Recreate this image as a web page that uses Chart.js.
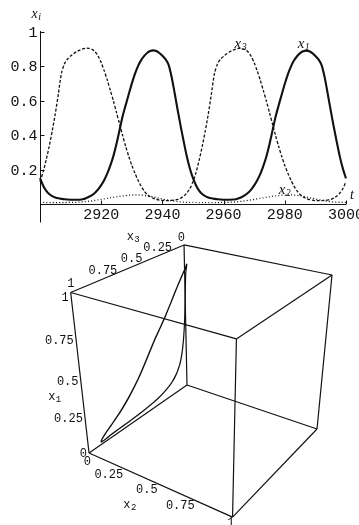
<!DOCTYPE html>
<html>
<head>
<meta charset="utf-8">
<script src="https://cdn.jsdelivr.net/npm/chart.js@4/dist/chart.umd.min.js"></script>
<style>
  html, body { margin: 0; padding: 0; background: #fff; }
  body { width: 359px; height: 525px; position: relative; overflow: hidden; }
  canvas { position: absolute; left: 0; }
  #series { top: 0; }
  #phase { top: 220px; }
</style>
</head>
<body>
<canvas id="series" width="359" height="228"></canvas>
<canvas id="phase" width="359" height="305"></canvas>
<script>
// ---- data: time t and the three concentrations x1, x2, x3 ----
const TIME = [
  2900,2901,2902,2903,2904,2905,2906,2907,2908,2909,
  2910,2911,2912,2913,2914,2915,2916,2917,2918,2919,
  2920,2921,2922,2923,2924,2925,2926,2927,2928,2929,
  2930,2931,2932,2933,2934,2935,2936,2937,2938,2939,
  2940,2941,2942,2943,2944,2945,2946,2947,2948,2949,
  2950,2951,2952,2953,2954,2955,2956,2957,2958,2959,
  2960,2961,2962,2963,2964,2965,2966,2967,2968,2969,
  2970,2971,2972,2973,2974,2975,2976,2977,2978,2979,
  2980,2981,2982,2983,2984,2985,2986,2987,2988,2989,
  2990,2991,2992,2993,2994,2995,2996,2997,2998,2999,
  3000
];
const X1 = [
  0.15,0.108,0.078,0.058,0.046,0.038,0.033,0.03,0.028,0.026,
  0.025,0.025,0.025,0.025,0.028,0.034,0.042,0.052,0.066,0.085,
  0.11,0.14,0.178,0.225,0.28,0.35,0.43,0.51,0.575,0.638,
  0.70,0.755,0.80,0.835,0.86,0.878,0.889,0.893,0.889,0.878,
  0.862,0.842,0.81,0.74,0.645,0.545,0.45,0.36,0.275,0.205,
  0.15,0.108,0.078,0.058,0.046,0.038,0.033,0.03,0.028,0.026,
  0.025,0.025,0.025,0.026,0.028,0.033,0.041,0.051,0.065,0.084,
  0.108,0.138,0.175,0.222,0.278,0.348,0.428,0.508,0.574,0.637,
  0.699,0.754,0.799,0.834,0.859,0.877,0.888,0.892,0.888,0.877,
  0.861,0.841,0.809,0.739,0.644,0.544,0.449,0.359,0.274,0.204,
  0.149
];
const X2 = [
  0.009,0.009,0.008,0.008,0.008,0.008,0.008,0.008,0.008,0.009,
  0.009,0.01,0.01,0.011,0.012,0.014,0.016,0.018,0.021,0.024,
  0.027,0.03,0.033,0.036,0.039,0.042,0.045,0.047,0.049,0.051,
  0.052,0.053,0.053,0.052,0.05,0.048,0.045,0.041,0.037,0.033,
  0.029,0.025,0.022,0.019,0.016,0.014,0.012,0.011,0.01,0.009,
  0.009,0.009,0.008,0.008,0.008,0.008,0.008,0.008,0.008,0.009,
  0.009,0.01,0.01,0.011,0.012,0.014,0.016,0.018,0.021,0.024,
  0.027,0.03,0.033,0.036,0.039,0.042,0.045,0.047,0.049,0.051,
  0.052,0.053,0.053,0.052,0.05,0.048,0.045,0.041,0.037,0.033,
  0.029,0.025,0.022,0.019,0.016,0.014,0.012,0.011,0.01,0.009,
  0.009
];
const X3 = [
  0.13,0.185,0.255,0.335,0.425,0.525,0.64,0.76,0.815,0.843,
  0.86,0.874,0.886,0.895,0.902,0.906,0.905,0.899,0.885,0.86,
  0.822,0.774,0.72,0.66,0.598,0.532,0.465,0.398,0.335,0.277,
  0.225,0.18,0.14,0.105,0.077,0.056,0.042,0.033,0.027,0.023,
  0.021,0.02,0.02,0.021,0.023,0.027,0.034,0.046,0.064,0.09,
  0.13,0.184,0.254,0.334,0.424,0.524,0.638,0.758,0.814,0.842,
  0.859,0.873,0.885,0.894,0.901,0.905,0.904,0.898,0.884,0.859,
  0.821,0.773,0.719,0.659,0.597,0.531,0.464,0.397,0.334,0.276,
  0.224,0.179,0.139,0.104,0.076,0.055,0.041,0.032,0.026,0.022,
  0.02,0.02,0.02,0.021,0.023,0.027,0.034,0.046,0.064,0.09,
  0.13
];

// ---- axis ticks ----
const T_RANGE = [2900, 3000];
const T_TICKS = [2920, 2940, 2960, 2980, 3000];
const Y_RANGE = [0, 1];
const Y_TICKS = [0.2, 0.4, 0.6, 0.8, 1];
const CUBE_TICKS = [0, 0.25, 0.5, 0.75, 1];
const CUBE_TICK_TEXT = ['0', '0.25', '0.5', '0.75', '1'];

// ---- fonts / styles ----
const MONO = '"Liberation Mono", "DejaVu Sans Mono", monospace';
const SERIF_IT = 'italic 15px "Liberation Serif", "DejaVu Serif", serif';
const SERIF_IT_SUB = 'italic 10px "Liberation Serif", "DejaVu Serif", serif';
const INK = '#111';

function subscripted(ctx, base, sub, x, y, font, subFont, drop, align) {
  ctx.font = font;
  const w1 = ctx.measureText(base).width;
  ctx.font = subFont;
  const w2 = ctx.measureText(sub).width;
  let left = x;
  if (align === 'right') left = x - w1 - w2;
  else if (align === 'center') left = x - (w1 + w2) / 2;
  ctx.textAlign = 'left';
  ctx.textBaseline = 'alphabetic';
  ctx.font = font;
  ctx.fillText(base, left, y);
  ctx.font = subFont;
  ctx.fillText(sub, left + w1 + 0.5, y + drop);
}

// ================= time series =================
const seriesAxes = {
  id: 'seriesAxes',
  afterDatasetsDraw(chart) {
    const { ctx } = chart;
    const sx = chart.scales.x, sy = chart.scales.y;
    const x0 = Math.round(sx.getPixelForValue(T_RANGE[0])) + 0.5;
    const y0 = Math.round(sy.getPixelForValue(Y_RANGE[0])) + 0.5;
    const yTop = sy.getPixelForValue(Y_RANGE[1]);
    const xEnd = sx.getPixelForValue(T_RANGE[1]);
    ctx.save();
    ctx.strokeStyle = INK;
    ctx.fillStyle = INK;
    ctx.lineWidth = 1;
    ctx.beginPath();
    ctx.moveTo(x0, yTop - 1);
    ctx.lineTo(x0, y0 + 18);
    ctx.moveTo(x0, y0);
    ctx.lineTo(xEnd, y0);
    Y_TICKS.forEach(v => {
      const y = Math.round(sy.getPixelForValue(v)) + 0.5;
      ctx.moveTo(x0, y); ctx.lineTo(x0 + 4, y);
    });
    T_TICKS.forEach(t => {
      const x = Math.round(sx.getPixelForValue(t)) + 0.5;
      ctx.moveTo(x, y0); ctx.lineTo(x, y0 - 4);
    });
    ctx.stroke();

    ctx.font = '15px ' + MONO;
    ctx.textAlign = 'right';
    ctx.textBaseline = 'middle';
    Y_TICKS.forEach(v => {
      ctx.fillText(String(v), x0 - 3, sy.getPixelForValue(v) + 1);
    });
    ctx.textAlign = 'center';
    ctx.textBaseline = 'top';
    T_TICKS.forEach(t => {
      ctx.fillText(String(t), sx.getPixelForValue(t), y0 + 3);
    });

    // axis titles
    subscripted(ctx, 'x', 'i', x0 - 9, yTop - 14, 'italic 14px "Liberation Serif", serif', SERIF_IT_SUB, 2, 'left');
    ctx.font = 'italic 14px "Liberation Serif", serif';
    ctx.textAlign = 'left';
    ctx.textBaseline = 'alphabetic';
    ctx.fillText('t', xEnd + 4, y0 - 6);

    // curve names
    const names = [
      { b: 'x', s: '3', t: 2963.6, v: 0.905 },
      { b: 'x', s: '1', t: 2984.2, v: 0.905 },
      { b: 'x', s: '2', t: 2978.0, v: 0.06 }
    ];
    names.forEach(n => {
      subscripted(ctx, n.b, n.s, sx.getPixelForValue(n.t), sy.getPixelForValue(n.v),
        SERIF_IT, SERIF_IT_SUB, 2, 'left');
    });
    ctx.restore();
  }
};

const pts = arr => TIME.map((t, i) => ({ x: t, y: arr[i] }));

new Chart(document.getElementById('series'), {
  type: 'line',
  data: {
    datasets: [
      { label: 'x2', data: pts(X2), borderColor: INK, borderWidth: 1.3, borderDash: [1, 2.2] },
      { label: 'x3', data: pts(X3), borderColor: INK, borderWidth: 1.3, borderDash: [3, 1.8] },
      { label: 'x1', data: pts(X1), borderColor: INK, borderWidth: 2.1 }
    ]
  },
  options: {
    responsive: false,
    animation: false,
    events: [],
    layout: { padding: { left: 40, right: 13, top: 32, bottom: 24 } },
    elements: { point: { radius: 0 }, line: { tension: 0.25, fill: false } },
    datasets: { line: { clip: 6 } },
    scales: {
      x: { type: 'linear', min: T_RANGE[0], max: T_RANGE[1], display: false },
      y: { type: 'linear', min: Y_RANGE[0], max: Y_RANGE[1], display: false }
    },
    plugins: { legend: { display: false }, tooltip: { enabled: false } }
  },
  plugins: [seriesAxes]
});

// ================= phase portrait in the unit cube =================
// perspective camera: screen = (U0 + U.p) / (1 + W.p), p = (x1, x2, x3)
const CAMERA = {
  u0: 187, u: [-23.2, 94.5, -112.2],
  v0: 385, v: [-167.0, -4.05, -4.5],
  w: [-0.110, -0.112, -0.160]
};
function view(p) {
  const d = 1 + CAMERA.w[0] * p[0] + CAMERA.w[1] * p[1] + CAMERA.w[2] * p[2];
  return {
    x: (CAMERA.u0 + CAMERA.u[0] * p[0] + CAMERA.u[1] * p[1] + CAMERA.u[2] * p[2]) / d,
    y: (CAMERA.v0 + CAMERA.v[0] * p[0] + CAMERA.v[1] * p[1] + CAMERA.v[2] * p[2]) / d
  };
}

const LO = 0, HI = 1;
const corner = i => [(i & 1) ? HI : LO, (i & 2) ? HI : LO, (i & 4) ? HI : LO];
const boxEdges = [];
for (let i = 0; i < 8; i++) {
  for (let k = 0; k < 3; k++) {
    if (!(i & (1 << k))) boxEdges.push([corner(i), corner(i | (1 << k))]);
  }
}

const edgeSets = boxEdges.map(([a, b]) => ({
  data: [view(a), view(b)],
  showLine: true, borderColor: INK, borderWidth: 1.2, pointRadius: 0, tension: 0
}));
const orbit = {
  data: TIME.map((t, i) => view([X1[i], X2[i], X3[i]])),
  showLine: true, borderColor: INK, borderWidth: 1.2, pointRadius: 0, tension: 0.2
};

const cubeLabels = {
  id: 'cubeLabels',
  afterDatasetsDraw(chart) {
    const { ctx } = chart;
    const sx = chart.scales.x, sy = chart.scales.y;
    const at = p => { const q = view(p); return { x: sx.getPixelForValue(q.x), y: sy.getPixelForValue(q.y) }; };
    ctx.save();
    ctx.fillStyle = INK;
    const tickFont = '12px ' + MONO;
    ctx.font = tickFont;

    // x3 along the upper-left edge (x1 = 1, x2 = 0)
    ctx.textAlign = 'center';
    ctx.textBaseline = 'middle';
    CUBE_TICKS.forEach((v, i) => {
      const q = at([HI, LO, v]);
      ctx.fillText(CUBE_TICK_TEXT[i], q.x - 2.8 + 3 * v, q.y - 7 - 1.5 * v);
    });
    // x1 along the left vertical edge (x2 = 0, x3 = 1)
    ctx.textAlign = 'right';
    CUBE_TICKS.forEach((v, i) => {
      const q = at([v, LO, HI]);
      ctx.fillText(CUBE_TICK_TEXT[i], q.x - 2, q.y + 1 + 4 * v);
    });
    // x2 along the lower-front edge (x1 = 0, x3 = 1)
    CUBE_TICKS.forEach((v, i) => {
      const q = at([LO, v, HI]);
      ctx.fillText(CUBE_TICK_TEXT[i], q.x + 2, q.y + 8.5 - 2.5 * v);
    });

    const sub = '9px ' + MONO;
    const m3 = at([HI, LO, 0.5]);
    subscripted(ctx, 'x', '3', m3.x, m3.y - 26, tickFont, sub, 2, 'center');
    const m1 = at([0.375, LO, HI]);
    subscripted(ctx, 'x', '1', m1.x - 22, m1.y + 2, tickFont, sub, 2, 'right');
    const m2 = at([LO, 0.5, HI]);
    subscripted(ctx, 'x', '2', m2.x - 26, m2.y + 25, tickFont, sub, 2, 'center');
    ctx.restore();
  }
};

new Chart(document.getElementById('phase'), {
  type: 'scatter',
  data: { datasets: [...edgeSets, orbit] },
  options: {
    responsive: false,
    animation: false,
    events: [],
    layout: { padding: 0 },
    datasets: { scatter: { clip: false } },
    scales: {
      x: { type: 'linear', min: 0, max: 359, display: false },
      y: { type: 'linear', min: 220, max: 525, reverse: true, display: false }
    },
    plugins: { legend: { display: false }, tooltip: { enabled: false } }
  },
  plugins: [cubeLabels]
});
</script>
</body>
</html>
